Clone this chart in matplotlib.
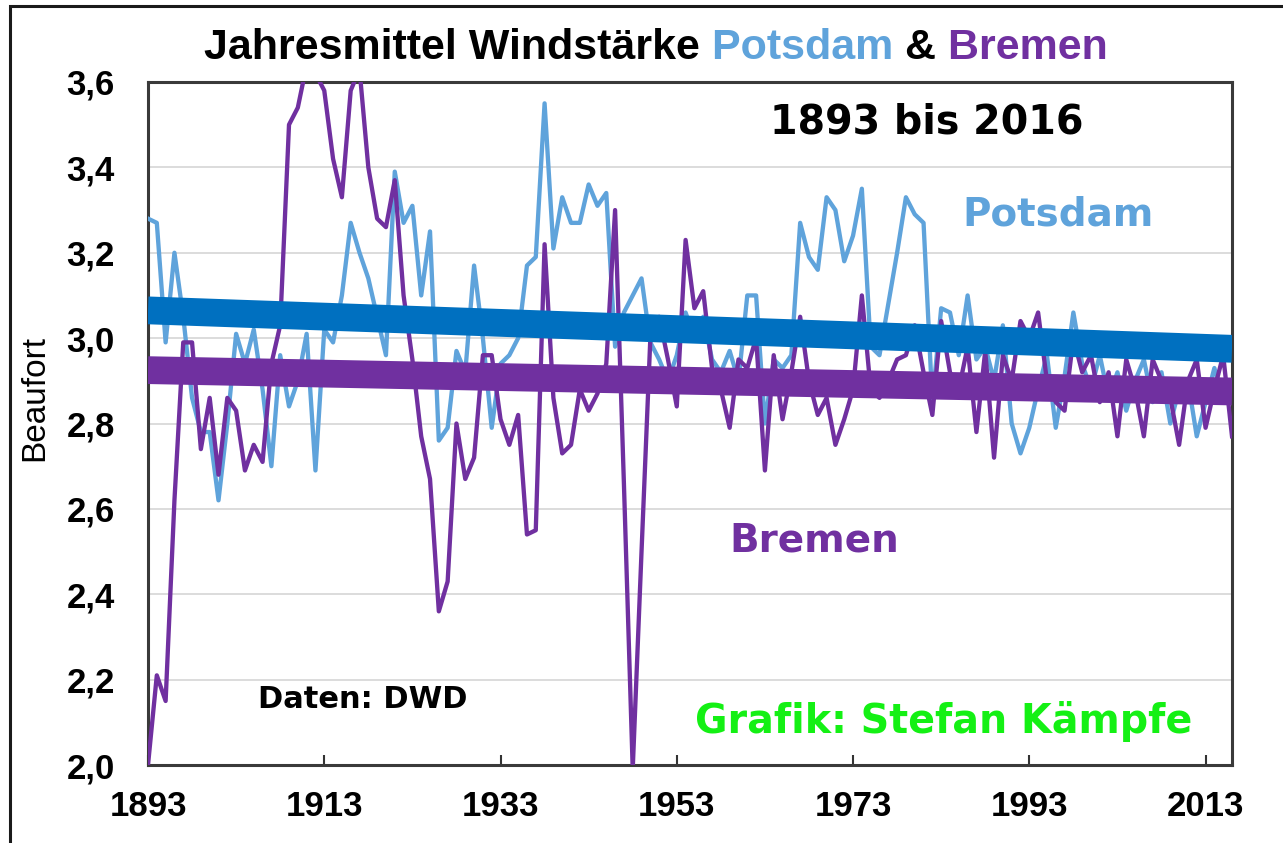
import matplotlib
matplotlib.use("Agg")
import matplotlib.pyplot as plt
from matplotlib.patches import Rectangle
import numpy as np

W, H = 1283, 843

years = np.arange(1893, 2017)

# Jahresmittel Windstärke (Beaufort)
potsdam = [
    3.28, 3.27, 2.99, 3.20, 3.05, 2.86, 2.78, 2.78, 2.62, 2.80,   # 1893-1902
    3.01, 2.94, 3.02, 2.88, 2.70, 2.96, 2.84, 2.90, 3.01, 2.69,   # 1903-1912
    3.02, 2.99, 3.10, 3.27, 3.20, 3.14, 3.05, 2.96, 3.39, 3.27,   # 1913-1922
    3.31, 3.10, 3.25, 2.76, 2.79, 2.97, 2.92, 3.17, 3.00, 2.79,   # 1923-1932
    2.94, 2.96, 3.00, 3.17, 3.19, 3.55, 3.21, 3.33, 3.27, 3.27,   # 1933-1942
    3.36, 3.31, 3.34, 2.98, 3.06, 3.10, 3.14, 2.99, 2.95, 2.90,   # 1943-1952
    2.96, 3.06, 3.00, 3.05, 2.95, 2.92, 2.97, 2.90, 3.10, 3.10,   # 1953-1962
    2.80, 2.95, 2.93, 2.96, 3.27, 3.19, 3.16, 3.33, 3.30, 3.18,   # 1963-1972
    3.24, 3.35, 2.98, 2.96, 3.08, 3.20, 3.33, 3.29, 3.27, 2.85,   # 1973-1982
    3.07, 3.06, 2.96, 3.10, 2.95, 2.98, 2.90, 3.03, 2.80, 2.73,   # 1983-1992
    2.79, 2.88, 2.96, 2.79, 2.91, 3.06, 2.94, 2.88, 2.96, 2.86,   # 1993-2002
    2.92, 2.83, 2.90, 2.95, 2.85, 2.92, 2.80, 2.88, 2.90, 2.77,   # 2003-2012
    2.85, 2.93, 2.86, 2.90,                                       # 2013-2016
]
bremen = [
    2.00, 2.21, 2.15, 2.62, 2.99, 2.99, 2.74, 2.86, 2.68, 2.86,   # 1893-1902
    2.83, 2.69, 2.75, 2.71, 2.94, 3.03, 3.50, 3.54, 3.64, 3.62,   # 1903-1912
    3.58, 3.42, 3.33, 3.58, 3.63, 3.40, 3.28, 3.26, 3.37, 3.10,   # 1913-1922
    2.95, 2.77, 2.67, 2.36, 2.43, 2.80, 2.67, 2.72, 2.96, 2.96,   # 1923-1932
    2.81, 2.75, 2.82, 2.54, 2.55, 3.22, 2.86, 2.73, 2.75, 2.88,   # 1933-1942
    2.83, 2.87, 2.94, 3.30, 2.66, 1.99, 2.50, 3.00, 3.05, 2.95,   # 1943-1952
    2.84, 3.23, 3.07, 3.11, 2.93, 2.88, 2.79, 2.95, 2.93, 3.00,   # 1953-1962
    2.69, 2.96, 2.81, 2.92, 3.05, 2.90, 2.82, 2.86, 2.75, 2.81,   # 1963-1972
    2.88, 3.10, 2.88, 2.86, 2.90, 2.95, 2.96, 3.03, 2.92, 2.82,   # 1973-1982
    3.04, 2.92, 2.88, 2.98, 2.78, 2.97, 2.72, 2.96, 2.90, 3.04,   # 1983-1992
    3.00, 3.06, 2.90, 2.85, 2.83, 3.00, 2.92, 2.96, 2.85, 2.92,   # 1993-2002
    2.77, 2.95, 2.88, 2.77, 2.95, 2.90, 2.86, 2.75, 2.90, 2.95,   # 2003-2012
    2.79, 2.88, 2.96, 2.77,                                       # 2013-2016
]

# lineare Trends (Endpunkte)
trend_years = [1893, 2016]
potsdam_trend = [3.065, 2.975]
bremen_trend = [2.925, 2.875]

tick_years = [1893, 1913, 1933, 1953, 1973, 1993, 2013]
y_ticks = [2.0, 2.2, 2.4, 2.6, 2.8, 3.0, 3.2, 3.4, 3.6]

c_potsdam = "#5FA3DB"
c_bremen = "#7030A0"
c_trend_p = "#0070C0"
c_green = "#14F014"

fx = lambda px: px / W
fy = lambda py: 1 - py / H

fig = plt.figure(figsize=(W / 100, H / 100), dpi=100)
ax = fig.add_axes([fx(148), fy(765), (1232 - 148) / W, (765 - 82) / H])

ax.plot(years, potsdam, color=c_potsdam, lw=3.1, zorder=3)
ax.plot(years, bremen, color=c_bremen, lw=3.1, zorder=4)
ax.plot(trend_years, potsdam_trend, color=c_trend_p, lw=20,
        solid_capstyle="butt", zorder=5)
ax.plot(trend_years, bremen_trend, color=c_bremen, lw=20,
        solid_capstyle="butt", zorder=5)

ax.set_xlim(1893, 2016)
ax.set_ylim(2.0, 3.6)
ax.set_xticks(tick_years)
ax.set_xticklabels([str(y) for y in tick_years])
ax.set_yticks(y_ticks)
ax.set_yticklabels([f"{v:.1f}".replace(".", ",") for v in y_ticks])

ax.yaxis.grid(True, color="#D9D9D9", lw=1.3)
ax.set_axisbelow(True)
for s in ax.spines.values():
    s.set_color("#3A3A3A")
    s.set_linewidth(2.2)

ax.tick_params(axis="x", direction="in", length=7, width=1.5, color="#333333",
               pad=18, labelsize=25)
ax.tick_params(axis="y", length=0, pad=24, labelsize=25)
for lab in ax.get_xticklabels() + ax.get_yticklabels():
    lab.set_fontfamily("Liberation Sans")
    lab.set_fontweight("bold")

fig.text(fx(35), fy(398), "Beaufort", rotation=90, ha="center", va="center",
         fontsize=24, family="Liberation Sans")

# Titel in mehreren Farben
parts = [("Jahresmittel Windstärke", "black"), (" Potsdam", c_potsdam),
         (" &", "black"), (" Bremen", c_bremen)]
t = fig.text(fx(204), fy(68), parts[0][0], ha="left", va="bottom",
             fontsize=31, family="Liberation Sans", fontweight="bold",
             color=parts[0][1])
for s, c in parts[1:]:
    t = ax.annotate(s, xy=(1, 0), xycoords=t, ha="left", va="bottom",
                    fontsize=31, family="Liberation Sans", fontweight="bold",
                    color=c, annotation_clip=False)

bold = dict(family="DejaVu Sans", fontweight="bold", ha="center", va="center")
fig.text(fx(927), fy(122), "1893 bis 2016", fontsize=28.5, color="black", **bold)
fig.text(fx(1058), fy(215), "Potsdam", fontsize=28, color=c_potsdam, **bold)
fig.text(fx(814), fy(540), "Bremen", fontsize=28, color=c_bremen, **bold)
fig.text(fx(363), fy(700), "Daten: DWD", fontsize=22, color="black", **bold)
fig.text(fx(944), fy(722), "Grafik: Stefan Kämpfe", fontsize=28.5,
         color=c_green, **bold)

# Rahmen um die ganze Grafik
fig.patches.append(Rectangle((fx(10), fy(900)), 1.2, fy(6) - fy(900),
                             transform=fig.transFigure, fill=False,
                             edgecolor="#1A1A1A", lw=2.2))

fig.savefig("out.png", dpi=100)
